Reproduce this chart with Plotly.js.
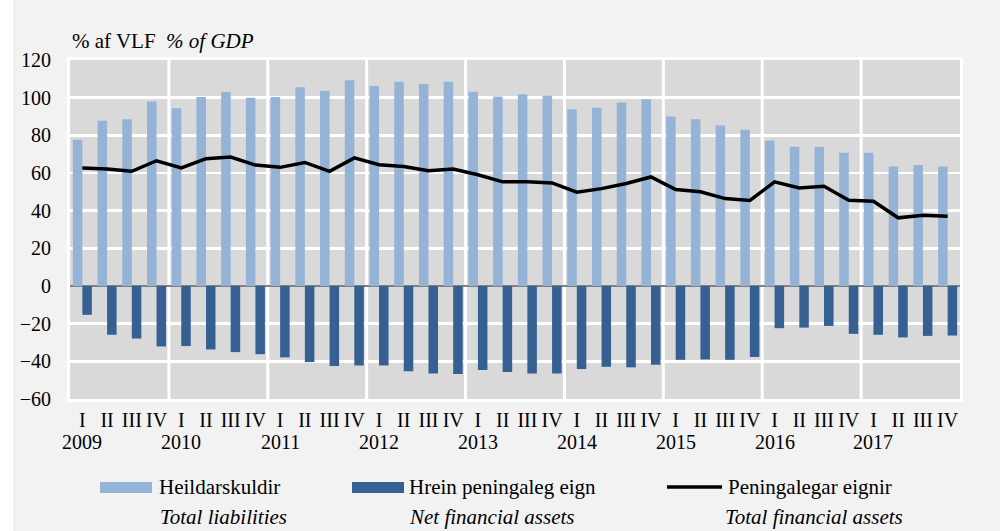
<!DOCTYPE html>
<html>
<head>
<meta charset="utf-8">
<script src="https://cdn.plot.ly/plotly-3.0.1.min.js"></script>
<style>
html,body{margin:0;padding:0;background:#ffffff;}
#chart{width:1000px;height:531px;}
</style>
</head>
<body>
<div id="chart"></div>
<script>
// ---- data ----
const years = ["2009","2010","2011","2012","2013","2014","2015","2016","2017"];
const quarters = ["I","II","III","IV"];
const liabilities = [77.7, 87.7, 88.6, 97.9, 94.4, 100.4, 103.0, 100.0, 100.4, 105.5, 103.6, 109.2,
  106.2, 108.5, 107.3, 108.4, 103.1, 100.6, 101.8, 101.0, 93.9, 94.6, 97.4, 99.2,
  90.0, 88.6, 85.2, 82.9, 77.3, 74.0, 73.8, 70.8, 70.8, 63.5, 64.2, 63.4];
const netAssets = [-15.3, -25.9, -27.9, -32.1, -31.9, -33.7, -35.1, -36.2, -37.9, -40.4, -42.5, -42.2,
  -42.2, -45.2, -46.4, -46.7, -44.6, -45.7, -46.4, -46.4, -44.1, -42.9, -43.2, -41.8,
  -39.2, -39.0, -39.2, -37.7, -22.4, -22.1, -21.2, -25.4, -25.9, -27.3, -26.5, -26.3];
const totalAssets = [62.7, 62.1, 60.9, 66.5, 62.7, 67.6, 68.5, 64.2, 63.0, 65.6, 60.9, 68.0,
  64.4, 63.5, 61.2, 62.1, 59.1, 55.3, 55.4, 54.7, 49.8, 51.7, 54.4, 57.9,
  51.2, 50.0, 46.4, 45.4, 55.3, 52.1, 53.0, 45.5, 45.0, 36.2, 37.6, 37.1];
const seriesNames = ["Heildarskuldir", "Hrein peningaleg eign", "Peningalegar eignir"];
const seriesNamesEn = ["Total liabilities", "Net financial assets", "Total financial assets"];
const yTickVals = [-60, -40, -20, 0, 20, 40, 60, 80, 100, 120];

// ---- derived ----
const idx = [];
const qLabels = [];
years.forEach((y, i) => quarters.forEach((q, j) => { idx.push(i * 4 + j); qLabels.push(q); }));

const FONT = "'Liberation Serif', 'Times New Roman', Times, serif";
const LIGHT = "#95b3d7", DARK = "#366092";

// plot area in pixels
const L = 70, R = 40, T = 60, B = 132, W = 1000, H = 531;
const pw = W - L - R, ph = H - T - B;
const px = x => (x - L) / pw;
const py = y => (H - B - y) / ph;

const traces = [
  {type: "bar", x: idx, y: liabilities, name: seriesNames[0], marker: {color: LIGHT}, showlegend: false},
  {type: "bar", x: idx, y: netAssets, name: seriesNames[1], marker: {color: DARK}, showlegend: false},
  {type: "scatter", mode: "lines", x: idx, y: totalAssets, name: seriesNames[2],
   line: {color: "#000000", width: 3.5}, showlegend: false}
];

const shapes = [];
// white background strip left
shapes.push({type: "rect", xref: "paper", yref: "paper", x0: px(0), x1: px(13), y0: py(H), y1: py(0),
  fillcolor: "#ffffff", line: {width: 0}, layer: "below"});
// year separators
for (let i = 1; i < years.length; i++) {
  shapes.push({type: "line", xref: "x", yref: "paper", x0: i * 4 - 0.5, x1: i * 4 - 0.5, y0: 0, y1: 1,
    line: {color: "#ffffff", width: 3}, layer: "below"});
}
// legend swatches
shapes.push({type: "rect", xref: "paper", yref: "paper", x0: px(100), x1: px(152), y0: py(493), y1: py(482),
  fillcolor: LIGHT, line: {width: 0}});
shapes.push({type: "rect", xref: "paper", yref: "paper", x0: px(352), x1: px(404), y0: py(493), y1: py(482),
  fillcolor: DARK, line: {width: 0}});
shapes.push({type: "line", xref: "paper", yref: "paper", x0: px(667), x1: px(722), y0: py(487), y1: py(487),
  line: {color: "#000000", width: 3.5}});

const annotations = [];
annotations.push({xref: "paper", yref: "paper", x: px(70), y: py(41), xanchor: "left", yanchor: "middle",
  text: "% af VLF  <i>% of GDP</i>", showarrow: false, font: {family: FONT, size: 21, color: "#000"}});
years.forEach((y, i) => {
  annotations.push({xref: "x", yref: "paper", x: i * 4, y: py(442), xanchor: "center", yanchor: "middle",
    text: y, showarrow: false, font: {family: FONT, size: 20, color: "#000"}});
});
const legX = [157, 407, 726];
const legX2 = [158, 407, 723];
seriesNames.forEach((n, i) => {
  annotations.push({xref: "paper", yref: "paper", x: px(legX[i]), y: py(487), xanchor: "left", yanchor: "middle",
    text: n, showarrow: false, font: {family: FONT, size: 21, color: "#000"}});
  annotations.push({xref: "paper", yref: "paper", x: px(legX2[i]), y: py(517), xanchor: "left", yanchor: "middle",
    text: "<i>" + seriesNamesEn[i] + "</i>", showarrow: false, font: {family: FONT, size: 21, color: "#000"}});
});

const layout = {
  width: W, height: H,
  margin: {l: L, r: R, t: T, b: B},
  paper_bgcolor: "#f2f2f2",
  plot_bgcolor: "#d9d9d9",
  barmode: "group",
  bargap: 0.23,
  bargroupgap: 0,
  showlegend: false,
  font: {family: FONT, size: 20, color: "#000"},
  xaxis: {
    range: [-0.5, idx.length - 0.5],
    tickvals: idx, ticktext: qLabels,
    showgrid: false, zeroline: false,
    showline: true, mirror: true, linecolor: "#ffffff", linewidth: 3,
    ticks: "outside", ticklen: 1, tickcolor: "rgba(0,0,0,0)",
    tickfont: {family: FONT, size: 20, color: "#000"}
  },
  yaxis: {
    range: [-60, 120],
    tickvals: yTickVals,
    showgrid: true, gridcolor: "#ffffff", gridwidth: 2.5,
    zeroline: true, zerolinecolor: "#808080", zerolinewidth: 2,
    showline: true, mirror: true, linecolor: "#ffffff", linewidth: 3,
    ticks: "outside", ticklen: 12, tickcolor: "rgba(0,0,0,0)",
    tickfont: {family: FONT, size: 20, color: "#000"}
  },
  shapes: shapes,
  annotations: annotations
};

Plotly.newPlot("chart", traces, layout, {displayModeBar: false, staticPlot: true});
</script>
</body>
</html>
